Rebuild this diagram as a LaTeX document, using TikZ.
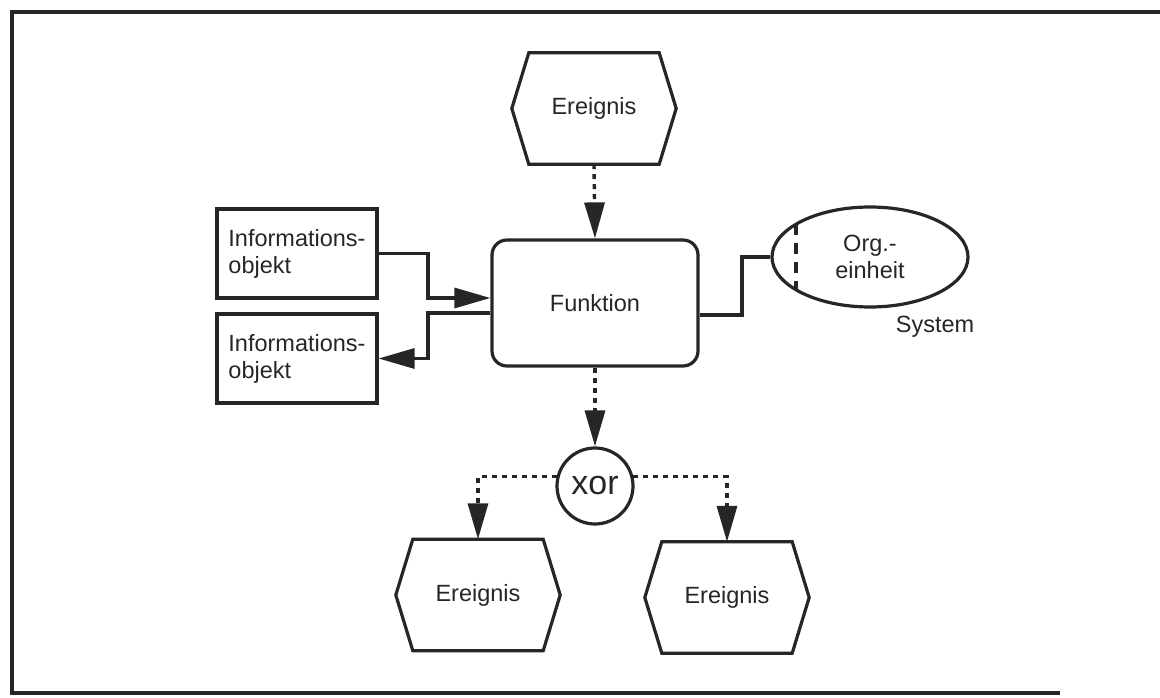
\documentclass[tikz,border=0pt]{standalone}
\usepackage{fontspec}
\setmainfont{Liberation Sans}
\usetikzlibrary{arrows.meta,shapes.geometric,calc}

\tikzset{
  lbl/.style={font=\fontsize{23.5}{27}\selectfont, text=black!85},
  outline/.style={draw=black!85, line width=3.2pt, line join=miter},
  evt/.style={lbl, minimum width=164pt, minimum height=111pt, inner sep=0pt},
  infobox/.style={lbl, outline, minimum width=160pt, minimum height=89pt, align=left, inner sep=0pt},
  funcbox/.style={lbl, outline, rounded corners=15pt, minimum width=206pt, minimum height=126pt, inner sep=0pt},
  orgunit/.style={lbl, outline, ellipse, minimum width=196pt, minimum height=100pt, inner sep=0pt, align=center},
  xorgate/.style={outline, circle, minimum size=76pt, inner sep=0pt, font=\fontsize{34}{38}\selectfont, text=black!85},
  tip/.style={-{Triangle[length=36pt,width=20pt]}},
  flow/.style={draw=black!85, line width=3.4pt, dash pattern=on 5pt off 5pt, tip},
  link/.style={draw=black!85, line width=3.2pt},
  linkarrow/.style={link, tip},
}

% hexagonal event outline around a named node
\newcommand\evtoutline[1]{%
  \draw[outline] (#1.west) -- ([xshift=17pt]#1.north west) -- ([xshift=-17pt]#1.north east)
    -- (#1.east) -- ([xshift=-17pt]#1.south east) -- ([xshift=17pt]#1.south west) -- cycle;}

\begin{document}
\begin{tikzpicture}[x=1pt, y=-1pt]
  \useasboundingbox (0,0) rectangle (1160,698);

  % frame
  \draw[draw=black!85, line width=3.6pt] (1160,12) -- (12,12) -- (12,693) -- (1060,693);

  % events
  \node[evt] (e1) at (594,108.5) {Ereignis};
  \evtoutline{e1}
  \node[evt] (e2) at (478,595) {Ereignis};
  \evtoutline{e2}
  \node[evt] (e3) at (727,597.5) {Ereignis};
  \evtoutline{e3}

  % function
  \node[funcbox] (fn) at (595,303) {Funktion};

  % information objects
  \node[infobox] (i1) at (297,253.5) {Informations-\\objekt};
  \node[infobox] (i2) at (297,358.5) {Informations-\\objekt};

  % organisational unit
  \node[orgunit] (org) at (870,257) {Org.-\\einheit};
  \draw[draw=black!85, line width=3.2pt, dash pattern=on 11pt off 8pt]
    ($(org.center)+(-74,-33)$) -- ($(org.center)+(-74,33)$);
  \node[lbl] (sys) at (935,327) {System};

  % xor connector
  \node[xorgate] (xor) at (595,486) {xor};

  % control flow
  \draw[flow] (e1.south) -- (fn.north);
  \draw[flow] (fn.south) -- (xor.north);
  \draw[flow] (xor.166) -| (e2.north);
  \draw[flow] (xor.14) -| (e3.north);

  % data flow
  \coordinate (j1) at (428,298);
  \draw[linkarrow] (i1.east) -| (j1) -- (fn.west |- j1);
  \coordinate (j2) at (428,313);
  \draw[linkarrow] (fn.west |- j2) -- (j2) |- (i2.east);

  % assignment of the organisational unit
  \coordinate (j3) at (742,315);
  \draw[link] (fn.east |- j3) -- (j3) |- (org.west);
\end{tikzpicture}
\end{document}
